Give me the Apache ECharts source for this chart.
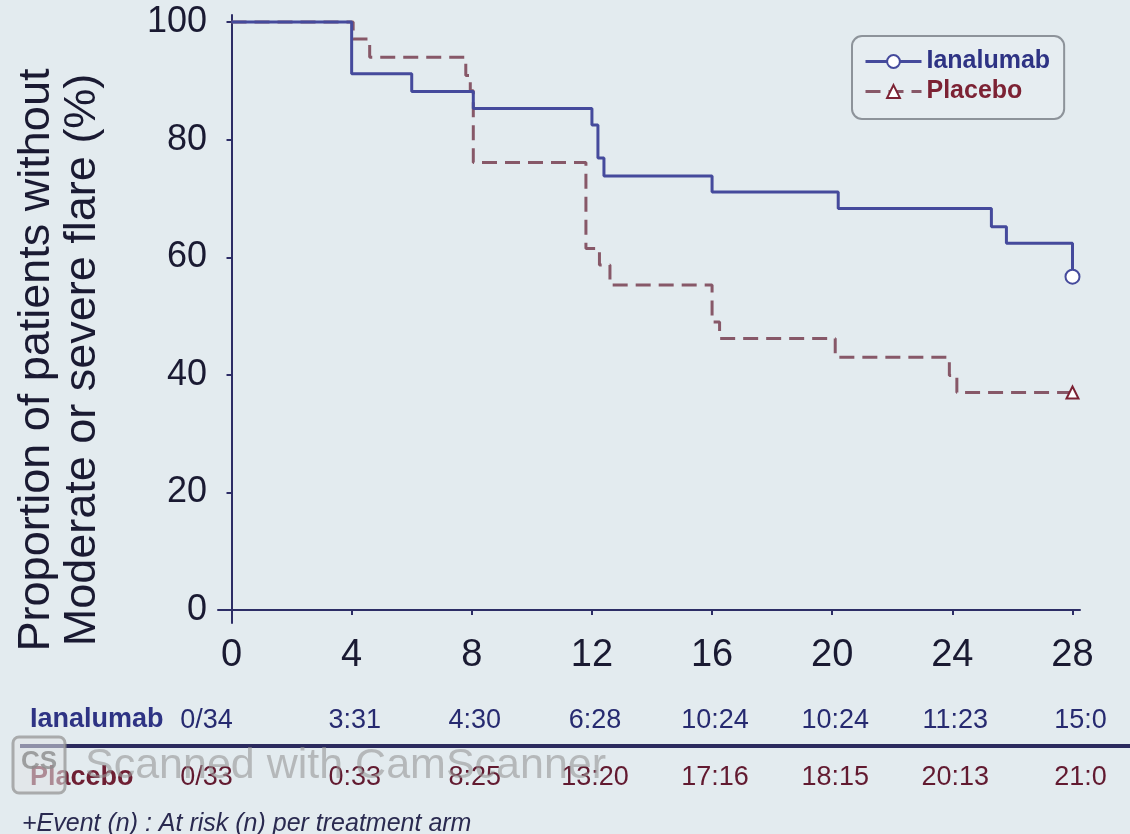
<!DOCTYPE html>
<html><head><meta charset="utf-8">
<script src="https://cdn.jsdelivr.net/npm/echarts@6/dist/echarts.min.js"></script>
<style>html,body{margin:0;padding:0;background:#e3ebef}#c{width:1130px;height:834px}</style>
</head><body><div id="c"></div>
<script>
// ---- data ----
const weekTicks = [0, 4, 8, 12, 16, 20, 24, 28];
const yTicks = [0, 20, 40, 60, 80, 100];
const ianalumabKM = [[0,100],[4,91.2],[6,88.2],[8.05,85.3],[12,82.5],[12.2,76.9],[12.4,73.8],[16,71.1],[20.2,68.3],[25.3,65.2],[25.8,62.4],[28,56.7]];
const placeboKM = [[0,100],[4.05,97.1],[4.6,94.0],[7.8,90.9],[7.95,88.3],[8.05,76.1],[11.8,61.5],[12.25,58.7],[12.6,55.3],[16.0,49.0],[16.25,46.2],[20.1,43.0],[23.9,39.9],[24.15,37.0],[28,37.0]];
const ianalumabRisk = ['0/34','3:31','4:30','6:28','10:24','10:24','11:23','15:0'];
const placeboRisk = ['0/33','0:33','8:25','13:20','17:16','18:15','20:13','21:0'];
const seriesNames = ['Ianalumab', 'Placebo'];
const footnote = '+Event (n) : At risk (n) per treatment arm';
const watermark = 'Scanned with CamScanner';

const FONT = '"Liberation Sans", Arial, sans-serif';
const NAVY = '#2d2d66';
const BLUE = '#454a9c';
const MAUVE = '#875868';
const TXT = '#1a1a32';

function kmData(pts, sym, size) {
  return pts.map((p, i) => i === pts.length - 1
    ? { value: p, symbol: sym, symbolSize: size }
    : { value: p, symbol: 'none' });
}

const chart = echarts.init(document.getElementById('c'), null, { renderer: 'canvas' });
chart.setOption({
  animation: false,
  backgroundColor: '#e3ebef',
  grid: { left: 218, right: 50, top: 15, bottom: 211 },
  xAxis: {
    type: 'value', min: -0.45, max: 28.25,
    axisLine: { show: true, lineStyle: { color: NAVY, width: 2 } },
    axisTick: { show: true, length: 5, customValues: weekTicks, lineStyle: { color: NAVY, width: 2 } },
    axisLabel: { customValues: weekTicks, fontSize: 38, color: TXT, margin: 14, fontFamily: FONT },
    splitLine: { show: false }
  },
  yAxis: {
    type: 'value', min: -2.2, max: 101.2,
    axisLine: { show: true, lineStyle: { color: NAVY, width: 2 } },
    axisTick: { show: true, length: 5, customValues: yTicks, lineStyle: { color: NAVY, width: 2 } },
    axisLabel: { customValues: yTicks, fontSize: 36, color: TXT, margin: 11, fontFamily: FONT },
    splitLine: { show: false }
  },
  legend: {
    orient: 'vertical', left: 852, top: 36,
    padding: [13, 14, 15, 12], itemGap: 5, itemWidth: 56, itemHeight: 16,
    borderColor: '#8d939a', borderWidth: 2, borderRadius: 10,
    backgroundColor: '#e6edf1',
    lineStyle: { width: 3 },
    textStyle: { fontSize: 25, fontWeight: 'bold', fontFamily: FONT },
    data: [
      { name: seriesNames[0], textStyle: { color: '#2e3384' } },
      { name: seriesNames[1], textStyle: { color: '#7c2234' } }
    ]
  },
  series: [
    {
      name: seriesNames[0], type: 'line', step: 'end',
      symbol: 'emptyCircle', symbolSize: 13,
      data: kmData(ianalumabKM, 'emptyCircle', 14),
      lineStyle: { color: BLUE, width: 3 },
      itemStyle: { color: BLUE, borderColor: NAVY, borderWidth: 2.5 },
      z: 3
    },
    {
      name: seriesNames[1], type: 'line', step: 'end',
      symbol: 'emptyTriangle', symbolSize: 12,
      data: kmData(placeboKM, 'emptyTriangle', 12),
      lineStyle: { color: MAUVE, width: 3, type: [15, 8] },
      itemStyle: { color: '#7c2234', borderColor: '#7c2234', borderWidth: 2.5 },
      z: 2
    }
  ]
});

// risk table & annotations positioned through the x scale
const gfx = [];
gfx.push({
  type: 'text', x: 60, y: 360, rotation: Math.PI / 2,
  style: { text: 'Proportion of patients without\nModerate or severe flare (%)', font: '45px ' + FONT,
           fill: TXT, align: 'center', verticalAlign: 'middle', lineHeight: 46 }
});
gfx.push({ type: 'text', x: 30, y: 720, style: { text: seriesNames[0], font: 'bold 27px ' + FONT, fill: '#2e3384', verticalAlign: 'middle' } });
gfx.push({ type: 'text', x: 30, y: 778, style: { text: seriesNames[1], font: 'bold 27px ' + FONT, fill: '#6e1f33', verticalAlign: 'middle' } });
weekTicks.forEach((w, i) => {
  let px = chart.convertToPixel({ xAxisIndex: 0 }, w);
  if (i === 0) px -= 25; else if (i === weekTicks.length - 1) px += 8; else px += 3;
  gfx.push({ type: 'text', x: px, y: 721, style: { text: ianalumabRisk[i], font: '27px ' + FONT, fill: '#262a70', align: 'center', verticalAlign: 'middle' } });
  gfx.push({ type: 'text', x: px, y: 778, style: { text: placeboRisk[i], font: '27px ' + FONT, fill: '#621a30', align: 'center', verticalAlign: 'middle' } });
});
gfx.push({ type: 'line', shape: { x1: 20, y1: 746, x2: 1130, y2: 746 }, style: { stroke: '#2b2a5e', lineWidth: 4 } });
gfx.push({ type: 'text', x: 22, y: 824, style: { text: footnote, font: 'italic 25px ' + FONT, fill: '#2a2a50', verticalAlign: 'middle' } });
// scanner watermark
gfx.push({ type: 'rect', shape: { x: 13, y: 737, width: 52, height: 56, r: 6 }, style: { fill: 'rgba(225,228,230,0.55)', stroke: 'rgba(150,150,150,0.75)', lineWidth: 3 }, z: 100 });
gfx.push({ type: 'text', x: 39, y: 762, style: { text: 'CS', font: 'bold 26px ' + FONT, fill: 'rgba(140,140,140,0.8)', align: 'center', verticalAlign: 'middle' }, z: 101 });
gfx.push({ type: 'text', x: 85, y: 766, style: { text: watermark, font: '43px ' + FONT, fill: 'rgba(150,150,150,0.6)', verticalAlign: 'middle' }, z: 101 });
chart.setOption({ graphic: gfx });
</script>
</body></html>
